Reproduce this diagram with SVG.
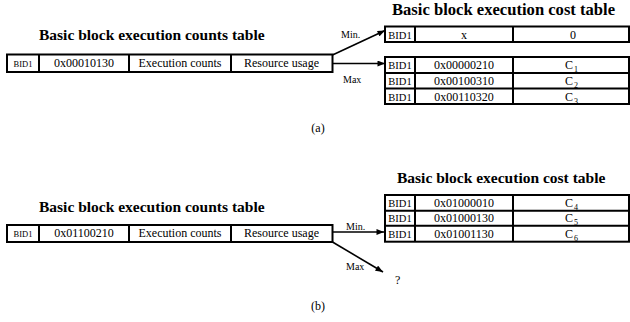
<svg xmlns="http://www.w3.org/2000/svg" width="630" height="322" viewBox="0 0 630 322">
<defs>
<style>
text{font-family:"Liberation Serif","Times New Roman",serif;fill:#000}
.title{font-weight:bold;font-size:15.5px}
.cell{font-size:12px;text-anchor:middle}
.bidS{font-size:8.5px;text-anchor:middle}
.bid{font-size:10.5px;text-anchor:middle}
.lbl{font-size:10px}
.sub{font-size:8px}
.cap{font-size:12px;text-anchor:middle}
.box{fill:#fff;stroke:#000;stroke-width:2}
.ln{stroke:#000;stroke-width:2;fill:none}
.conn{stroke:#000;stroke-width:1.6;fill:none;marker-end:url(#ah)}
</style>
<marker id="ah" viewBox="0 0 10 8" refX="10" refY="4" markerWidth="8" markerHeight="6" markerUnits="userSpaceOnUse" orient="auto">
<path d="M0,0 L10,4 L0,8 Z" fill="#000"/>
</marker>
</defs>

<!-- (a) -->
<g id="countsA">
<text class="title" x="39" y="40">Basic block execution counts table</text>
<rect class="box" x="7" y="54.5" width="325.5" height="17.5"/>
<path class="ln" d="M39,54.5V72M129,54.5V72M231,54.5V72"/>
<text class="bidS" x="23" y="66.5">BID1</text>
<text class="cell" x="84" y="67">0x00010130</text>
<text class="cell" x="180" y="67">Execution counts</text>
<text class="cell" x="281.5" y="67">Resource usage</text>
</g>

<g id="costA">
<text class="title" x="392" y="15" style="font-size:16.6px">Basic block execution cost table</text>
<rect class="box" x="385" y="26.5" width="244" height="15.5"/>
<path class="ln" d="M415,26.5V42M513,26.5V42"/>
<text class="bid" x="400" y="38.5">BID1</text>
<text class="cell" x="464" y="38.5">x</text>
<text class="cell" x="573" y="38.5">0</text>
<rect class="box" x="385" y="57" width="244" height="47"/>
<path class="ln" d="M385,73H629M385,88.5H629M415,57V104M513,57V104"/>
<text class="bid" x="400" y="69">BID1</text>
<text class="cell" x="464" y="69">0x00000210</text>
<text x="565" y="69" style="font-size:12px">C<tspan class="sub" dx="1" dy="3">1</tspan></text>
<text class="bid" x="400" y="85">BID1</text>
<text class="cell" x="464" y="85">0x00100310</text>
<text x="565" y="85" style="font-size:12px">C<tspan class="sub" dx="1" dy="3">2</tspan></text>
<text class="bid" x="400" y="100.5">BID1</text>
<text class="cell" x="464" y="100.5">0x00110320</text>
<text x="565" y="100.5" style="font-size:12px">C<tspan class="sub" dx="1" dy="3">3</tspan></text>
</g>

<!-- (b) -->
<g id="countsB">
<text class="title" x="39" y="212">Basic block execution counts table</text>
<rect class="box" x="7" y="225" width="325.5" height="17"/>
<path class="ln" d="M39,225V242M129,225V242M231,225V242"/>
<text class="bidS" x="23" y="236.5">BID1</text>
<text class="cell" x="84" y="237">0x01100210</text>
<text class="cell" x="180" y="237">Execution counts</text>
<text class="cell" x="281.5" y="237">Resource usage</text>
</g>

<g id="costB">
<text class="title" x="397" y="183">Basic block execution cost table</text>
<rect class="box" x="385" y="195" width="244" height="46.7"/>
<path class="ln" d="M385,210.7H629M385,225.7H629M415,195V241.7M513,195V241.7"/>
<text class="bid" x="400" y="207">BID1</text>
<text class="cell" x="464" y="207">0x01000010</text>
<text x="565" y="207" style="font-size:12px">C<tspan class="sub" dx="1" dy="3">4</tspan></text>
<text class="bid" x="400" y="222">BID1</text>
<text class="cell" x="464" y="222">0x01000130</text>
<text x="565" y="222" style="font-size:12px">C<tspan class="sub" dx="1" dy="3">5</tspan></text>
<text class="bid" x="400" y="237.5">BID1</text>
<text class="cell" x="464" y="237.5">0x01001130</text>
<text x="565" y="237.5" style="font-size:12px">C<tspan class="sub" dx="1" dy="3">6</tspan></text>
</g>

<g id="unknown"><text x="395" y="284" style="font-size:12px">?</text></g>

<g id="connectors">
<path class="conn" d="M332.5,55 L385,30.5"/>
<path class="conn" d="M332.5,63.5 L385,63.5"/>
<path class="conn" d="M332.5,232 L384,232"/>
<path class="conn" d="M332.5,242 L383,272"/>
<text class="lbl" x="341" y="38">Min.</text>
<text class="lbl" x="343" y="83">Max</text>
<text class="lbl" x="346" y="230">Min.</text>
<text class="lbl" x="346" y="270">Max</text>
</g>

<g id="captions">
<text class="cap" x="318" y="132">(a)</text>
<text class="cap" x="318" y="310">(b)</text>
</g>
</svg>
